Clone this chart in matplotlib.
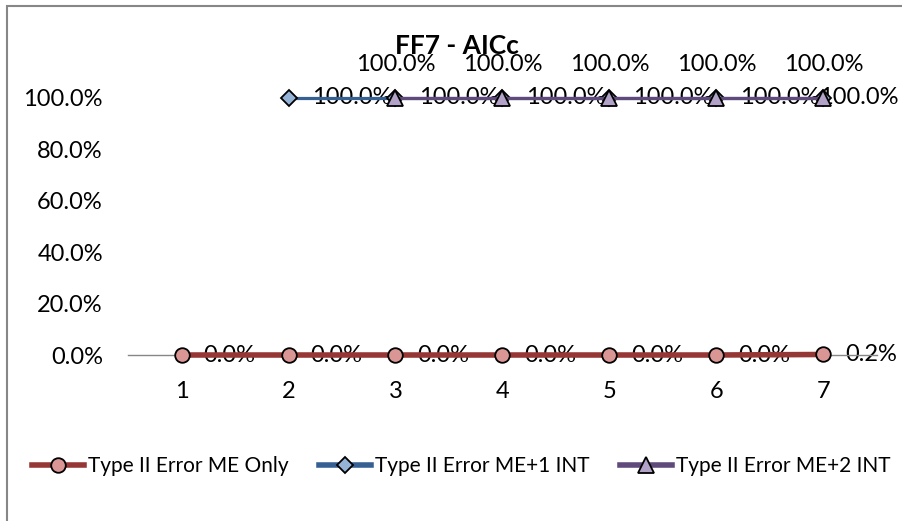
import numpy as np
import matplotlib
matplotlib.use("Agg")
import matplotlib.pyplot as plt
from matplotlib.patches import Rectangle

plt.rcParams['font.family'] = ['Lato', 'DejaVu Sans']

# Datos
categorias = [1, 2, 3, 4, 5, 6, 7]
me_only = [0.0, 0.0, 0.0, 0.0, 0.0, 0.0, 0.002]
me_1int = [np.nan, 1.0, 1.0, 1.0, 1.0, 1.0, 1.0]
me_2int = [np.nan, np.nan, 1.0, 1.0, 1.0, 1.0, 1.0]
nombres = ['Type II Error ME Only', 'Type II Error ME+1 INT', 'Type II Error ME+2 INT']
titulo = 'FF7 - AICc'
yticks = [0.0, 0.2, 0.4, 0.6, 0.8, 1.0]

fs = 17
fs_leg = 15

fig = plt.figure(figsize=(9.02, 5.21), dpi=100)
fig.patch.set_facecolor('white')

# Borde del área del gráfico
fig.patches.append(Rectangle((7 / 902, -0.5), 2.0, 1.5 - 6 / 521, transform=fig.transFigure,
                             fill=False, edgecolor='#878787', linewidth=1.5))

ax = fig.add_axes([128 / 902, 1 - 355 / 521, (877 - 128) / 902, (355 - 98) / 521])
x = np.arange(len(categorias))

l1, = ax.plot(x, me_only, color='#953735', lw=4, marker='o', ms=10.5,
              mfc='#D99694', mec='black', mew=1.3, zorder=3, clip_on=False)
l2, = ax.plot(x, me_1int, color='#376092', lw=2.3, marker='D', ms=8.5,
              mfc='#95B3D7', mec='black', mew=1.3, zorder=4, clip_on=False)
l3, = ax.plot(x, me_2int, color='#604A7B', lw=2.3, marker='^', ms=11,
              mfc='#B3A2C7', mec='black', mew=1.3, zorder=5, clip_on=False)

# Etiquetas de datos (Excel las mantiene dentro del área del gráfico)
borde_der = 899 / 902


def etiqueta(xi, v, dx, dy, ha):
    t = ax.annotate(f'{v * 100:.1f}%', (xi, v), xytext=(dx, dy), textcoords='offset points',
                    ha=ha, va='center', fontsize=fs, clip_on=False, zorder=2)
    return t


etiquetas = []
for xi, v in zip(x, me_only):
    etiquetas.append(etiqueta(xi, v, 16, 0, 'left'))
for xi, v in zip(x, me_1int):
    if not np.isnan(v):
        etiquetas.append(etiqueta(xi, v, 17, 0, 'left'))
for xi, v in zip(x, me_2int):
    if not np.isnan(v):
        etiqueta(xi, v, 0, 24, 'center')

ax.set_xlim(-0.5, len(categorias) - 0.5)
ax.set_ylim(0, 1)
ax.set_xticks(x)
ax.set_xticklabels([str(c) for c in categorias], fontsize=fs)
ax.set_yticks(yticks)
ax.set_yticklabels([f'{t * 100:.1f}%' for t in yticks], fontsize=fs)
ax.tick_params(axis='both', length=0)
ax.tick_params(axis='x', pad=19)
ax.tick_params(axis='y', pad=18)
for s in ['top', 'right', 'left']:
    ax.spines[s].set_visible(False)
ax.spines['bottom'].set_color('#868686')
ax.spines['bottom'].set_linewidth(1)
ax.set_facecolor('none')

fig.text(457 / 902, 1 - 46 / 521, titulo, ha='center', va='center',
         fontsize=19, fontweight='bold')

leg = fig.legend([l1, l2, l3], nombres, loc='center', bbox_to_anchor=(461 / 902, 1 - 466 / 521),
                 ncol=3, frameon=False, fontsize=fs_leg, handlelength=2.5, handletextpad=0.2,
                 columnspacing=1.45)
for h in leg.legend_handles:
    h.set_linewidth(4)

# Desplazar etiquetas que se salen por la derecha
fig.canvas.draw()
r = fig.canvas.get_renderer()
for t in etiquetas:
    bb = t.get_window_extent(r)
    limite = borde_der * fig.bbox.width
    if bb.x1 > limite:
        dx_pts = (bb.x1 - limite) * 72 / fig.dpi
        ox, oy = t.xyann
        t.xyann = (ox - dx_pts, oy)

fig.savefig('out.png', dpi=100)
